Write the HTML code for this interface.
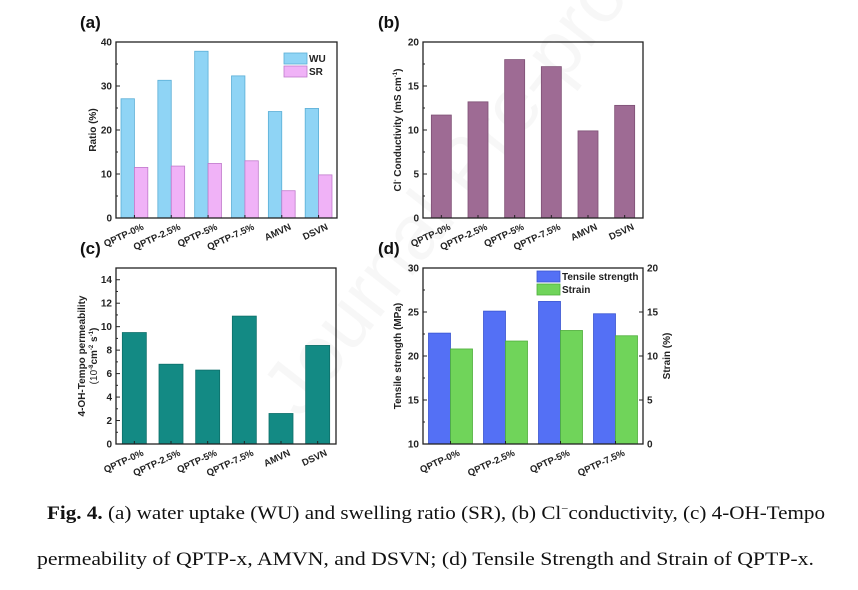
<!DOCTYPE html>
<html><head><meta charset="utf-8"><style>
body{margin:0;background:#fff;width:858px;height:590px;overflow:hidden;position:relative;font-family:"Liberation Sans",sans-serif}
svg{position:absolute;left:0;top:0}
.cap{position:absolute;font-family:"Liberation Serif",serif;font-size:18.5px;color:#111;white-space:nowrap;transform-origin:0 0}
</style></head><body>
<svg id="s" width="858" height="590"></svg>
<div class="cap" id="c1" style="left:47px;top:503px"><b>Fig. 4.</b> (a) water uptake (WU) and swelling ratio (SR), (b) Cl<sup style="font-size:11px">−</sup>conductivity, (c) 4-OH-Tempo</div>
<div class="cap" id="c2" style="left:37px;top:550px">permeability of QPTP-x, AMVN, and DSVN; (d) Tensile Strength and Strain of QPTP-x.</div>
<script>
const catsA=["QPTP-0%","QPTP-2.5%","QPTP-5%","QPTP-7.5%","AMVN","DSVN"];
const wu=[27.1,31.3,37.9,32.3,24.2,24.9];
const sr=[11.5,11.8,12.4,13.0,6.2,9.8];
const cond=[11.7,13.2,18.0,17.2,9.9,12.8];
const perm=[9.5,6.8,6.3,10.9,2.6,8.4];
const catsD=["QPTP-0%","QPTP-2.5%","QPTP-5%","QPTP-7.5%"];
const ts=[22.6,25.1,26.2,24.8];
const strain=[10.8,11.7,12.9,12.3];
const ticksA=[0,10,20,30,40],ticksB=[0,5,10,15,20],ticksC=[0,2,4,6,8,10,12,14],ticksD=[10,15,20,25,30],ticksD2=[0,5,10,15,20];
const S=document.getElementById('s');const NS="http://www.w3.org/2000/svg";
function el(t,a,p,txt){const e=document.createElementNS(NS,t);for(const k in a)e.setAttribute(k,a[k]);if(txt!==undefined)e.textContent=txt;(p||S).appendChild(e);return e;}
const wm=el('text',{x:0,y:0,transform:'translate(300,420) rotate(-52)','font-size':78,fill:'#000','fill-opacity':0.03,'font-family':'Liberation Sans'},S,'Journal Pre-proof');

function panel(o){
 const g=el('g',{});
 const {L,R,T,B,min,max}=o;
 const y=v=>B-(v-min)/(max-min)*(B-T);
 const n=o.cats.length,step=(R-L)/n;
 const x=i=>L+step*(i+0.5);
 o.series.forEach((s,si)=>{s.vals.forEach((v,i)=>{
   const sy=s.axis?B-(v-s.axis[0])/(s.axis[1]-s.axis[0])*(B-T):y(v);
   const bx=x(i)+s.off*o.bw;
   const r=el('rect',{x:bx,y:sy,width:o.bw,height:B-sy,fill:s.color,stroke:s.stroke,'stroke-width':0.8},g);
   
 });});
 el('rect',{x:L,y:T,width:R-L,height:B-T,fill:'none',stroke:'#222','stroke-width':1.3},g);
 o.ticks.forEach(t=>{const ty=y(t);el('line',{x1:L,x2:L+4,y1:ty,y2:ty,stroke:'#222'},g);
   el('text',{x:L-4,y:ty+3.5,'text-anchor':'end','font-size':10,'font-weight':'bold',fill:'#222'},g,t);
   if(o.minor&&t<max){el('line',{x1:L,x2:L+2,y1:y(t+o.minor),y2:y(t+o.minor),stroke:'#222'},g);}});
 if(o.ticks2){o.ticks2.forEach(t=>{const ty=B-(t-o.ax2[0])/(o.ax2[1]-o.ax2[0])*(B-T);el('line',{x1:R,x2:R-4,y1:ty,y2:ty,stroke:'#222'},g);
   el('text',{x:R+4,y:ty+3.5,'font-size':10,'font-weight':'bold',fill:'#222'},g,t);});}
 o.cats.forEach((c,i)=>{el('line',{x1:x(i),x2:x(i),y1:B,y2:B-3,stroke:'#222'},g);
   const t=el('text',{x:0,y:0,transform:`translate(${x(i)+10},${B+11}) rotate(-25)`,'text-anchor':'end','font-size':9.5,'font-weight':'bold',fill:'#222'},g,c);
   });
 const yt=el('text',{x:0,y:0,transform:`translate(${o.ylx},${(T+B)/2}) rotate(-90)`,'text-anchor':'middle','font-size':10,'font-weight':'bold',fill:'#222'},g);
 yt.innerHTML=o.ylabel;
 if(o.ylabel2){const t2=el('text',{x:0,y:0,transform:`translate(${R+27},${(T+B)/2}) rotate(-90)`,'text-anchor':'middle','font-size':10,'font-weight':'bold',fill:'#222'},g,o.ylabel2);}
 const pl=el('text',{x:o.plx,y:T-14,'font-size':17,'font-weight':'bold',fill:'#111'},g,o.plabel);
 if(o.legend){o.legend.forEach((l,i)=>{const ly=o.legY+i*13;
   const lr=el('rect',{x:o.legX,y:ly,width:23,height:11,fill:l.c,stroke:l.s,'stroke-width':0.8},g);
   el('text',{x:o.legX+25,y:ly+9,'font-size':10,'font-weight':'bold',fill:'#222'},g,l.t);});}
}
panel({name:'panel-a',L:116,R:337,T:42,B:218,min:0,max:40,cats:catsA,bw:13.4,ticks:ticksA,minor:5,
 series:[{key:'wu',vals:wu,color:'#8fd4f5',stroke:'#5aaed6',off:-1},{key:'sr',vals:sr,color:'#f0b2f7',stroke:'#c07acb',off:0}],
 ylabel:'Ratio (%)',ylx:96,plabel:'(a)',plx:80,legend:[{t:'WU',c:'#8fd4f5',s:'#5aaed6'},{t:'SR',c:'#f0b2f7',s:'#c07acb'}],legX:284,legY:53});
panel({name:'panel-b',L:423,R:643,T:42,B:218,min:0,max:20,cats:catsA,bw:20,ticks:ticksB,minor:2.5,
 series:[{key:'conductivity',vals:cond,color:'#9e6b94',stroke:'#7d4f74',off:-0.5}],
 ylabel:'Cl<tspan font-size="6" dy="-4">-</tspan><tspan dy="4"> Conductivity (mS cm</tspan><tspan font-size="6" dy="-4">-1</tspan><tspan dy="4">)</tspan>',ylx:401,plabel:'(b)',plx:378});
panel({name:'panel-c',L:116,R:336,T:268,B:444,min:0,max:15,cats:catsA,bw:24,ticks:ticksC,minor:1,
 series:[{key:'permeability',vals:perm,color:'#138a84',stroke:'#0d6f6a',off:-0.5}],
 ylabel:'<tspan x="0" dy="-5">4-OH-Tempo permeability</tspan><tspan x="0" dy="12" font-weight="normal">(10</tspan><tspan font-size="6" dy="-4">-8</tspan><tspan dy="4">cm</tspan><tspan font-size="6" dy="-4">-2</tspan><tspan dy="4"> s</tspan><tspan font-size="6" dy="-4">-1</tspan><tspan dy="4">)</tspan>',ylx:90,plabel:'(c)',plx:80});
panel({name:'panel-d',L:423,R:643,T:268,B:444,min:10,max:30,cats:catsD,bw:22,ticks:ticksD,minor:2.5,ticks2:ticksD2,ax2:[0,20],
 series:[{key:'tensile',vals:ts,color:'#5470f5',stroke:'#3a55d0',off:-1},{key:'strain',vals:strain,color:'#70d45a',stroke:'#4fae3c',off:0,axis:[0,20]}],
 ylabel:'Tensile strength (MPa)',ylx:401,ylabel2:'Strain (%)',plabel:'(d)',plx:378,legend:[{t:'Tensile strength',c:'#5470f5',s:'#3a55d0'},{t:'Strain',c:'#70d45a',s:'#4fae3c'}],legX:537,legY:271});
[['c1',778],['c2',777]].forEach(([id,w])=>{const e=document.getElementById(id);const cw=e.getBoundingClientRect().width;e.style.transform='scaleX('+(w/cw)+')';});
</script>
</body></html>
